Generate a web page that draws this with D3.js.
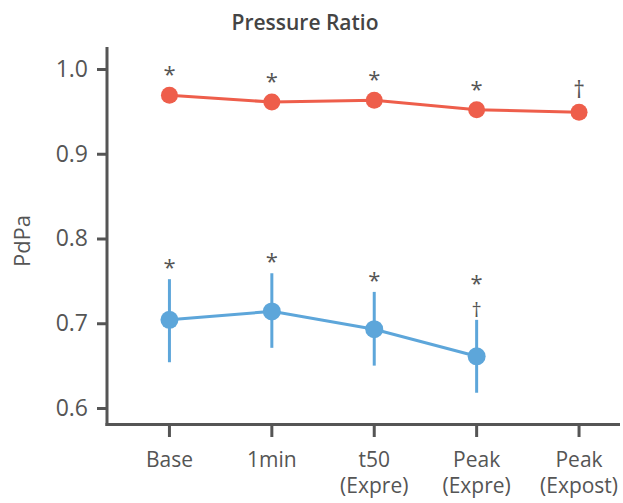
<!DOCTYPE html>
<html>
<head>
<meta charset="utf-8">
<script src="https://cdn.jsdelivr.net/npm/d3@7"></script>
<style>
	body { margin: 0; background: #fff; }
	text { font-family: "Open Sans", "Noto Sans", sans-serif; fill: #555; }
</style>
</head>
<body>
<svg id="chart"></svg>
<script>
var categories = [["Base"], ["1min"], ["t50", "(Expre)"], ["Peak", "(Expre)"], ["Peak", "(Expost)"]]

var redValues = [0.969, 0.961, 0.963, 0.952, 0.949]
var redMarks = ["*", "*", "*", "*", "†"]

var blueValues = [0.704, 0.714, 0.693, 0.661]
var blueLow = [0.654, 0.671, 0.650, 0.618]
var blueHigh = [0.752, 0.759, 0.737, 0.704]
var blueMarks = [["*"], ["*"], ["*"], ["*", "†"]]

var yTicks = [0.6, 0.7, 0.8, 0.9, 1.0]

var width = 623
var height = 503
var red = "#ee5e4b"
var blue = "#5da6da"
var axisColor = "#555"

var x = d3.scaleLinear()
	.domain([-0.6, 4.4])
	.range([108, 620])

var y = d3.scaleLinear()
	.domain([0.6, 1.0])
	.range([408, 69])

var svg = d3.select("#chart")
	.attr("width", width)
	.attr("height", height)

// title
svg.append("text")
	.attr("x", 305)
	.attr("y", 30)
	.attr("text-anchor", "middle")
	.attr("font-size", 21)
	.attr("font-weight", 600)
	.style("fill", "#444")
	.text("Pressure Ratio")

// y axis
var yAxis = svg.append("g")
	.attr("transform", "translate(107,0)")
	.call(d3.axisLeft(y).tickValues(yTicks).tickFormat(d3.format(".1f")).tickSize(10).tickPadding(9).tickSizeOuter(0))
yAxis.select(".domain").remove()
yAxis.selectAll(".tick line").attr("stroke", axisColor).attr("stroke-width", 3)
yAxis.selectAll(".tick text").attr("font-size", 23).style("fill", "#555").attr("font-family", null)

svg.append("line")
	.attr("x1", 107).attr("x2", 107)
	.attr("y1", y(1.026)).attr("y2", 426)
	.attr("stroke", axisColor).attr("stroke-width", 3)

// x axis
svg.append("line")
	.attr("x1", 105.5).attr("x2", 620)
	.attr("y1", 424.5).attr("y2", 424.5)
	.attr("stroke", axisColor).attr("stroke-width", 3)

var xTicks = svg.append("g")
	.selectAll("g")
	.data(categories)
	.join("g")
	.attr("transform", (d, i) => `translate(${x(i)},0)`)

xTicks.append("line")
	.attr("y1", 425).attr("y2", 437)
	.attr("stroke", axisColor).attr("stroke-width", 3)

xTicks.selectAll("text")
	.data(d => d)
	.join("text")
	.attr("y", (d, j) => 467 + j * 26)
	.attr("text-anchor", "middle")
	.attr("font-size", 21)
	.text(d => d)

// y label
svg.append("text")
	.attr("transform", "translate(30,241) rotate(-90)")
	.attr("text-anchor", "middle")
	.attr("font-size", 22)
	.text("PdPa")

// red series
var line = d3.line()
	.x((d, i) => x(i))
	.y(d => y(d))

svg.append("path")
	.attr("fill", "none")
	.attr("stroke", red)
	.attr("stroke-width", 3)
	.attr("d", line(redValues))

svg.append("g")
	.selectAll("circle")
	.data(redValues)
	.join("circle")
	.attr("cx", (d, i) => x(i))
	.attr("cy", d => y(d))
	.attr("r", 8.5)
	.attr("fill", red)

svg.append("g")
	.selectAll("text")
	.data(redMarks)
	.join("text")
	.attr("x", (d, i) => x(i))
	.attr("y", (d, i) => y(redValues[i]) - (d === "*" ? 13 : 14))
	.attr("text-anchor", "middle")
	.attr("font-size", d => d === "*" ? 22 : 23)
	.text(d => d)

// blue series
svg.append("g")
	.selectAll("line")
	.data(blueValues)
	.join("line")
	.attr("x1", (d, i) => x(i))
	.attr("x2", (d, i) => x(i))
	.attr("y1", (d, i) => y(blueLow[i]))
	.attr("y2", (d, i) => y(blueHigh[i]))
	.attr("stroke", blue)
	.attr("stroke-width", 3)

svg.append("path")
	.attr("fill", "none")
	.attr("stroke", blue)
	.attr("stroke-width", 3)
	.attr("d", line(blueValues))

svg.append("g")
	.selectAll("circle")
	.data(blueValues)
	.join("circle")
	.attr("cx", (d, i) => x(i))
	.attr("cy", d => y(d))
	.attr("r", 9)
	.attr("fill", blue)

svg.append("g")
	.selectAll("g")
	.data(blueMarks)
	.join("g")
	.attr("transform", (d, i) => `translate(${x(i)},${y(blueHigh[i])})`)
	.selectAll("text")
	.data(d => d.slice().reverse())
	.join("text")
	.attr("y", (d, j) => d === "*" ? (j === 0 ? -4 : -29) : -3)
	.attr("text-anchor", "middle")
	.attr("font-size", d => d === "*" ? 22 : 20)
	.text(d => d)
</script>
</body>
</html>
